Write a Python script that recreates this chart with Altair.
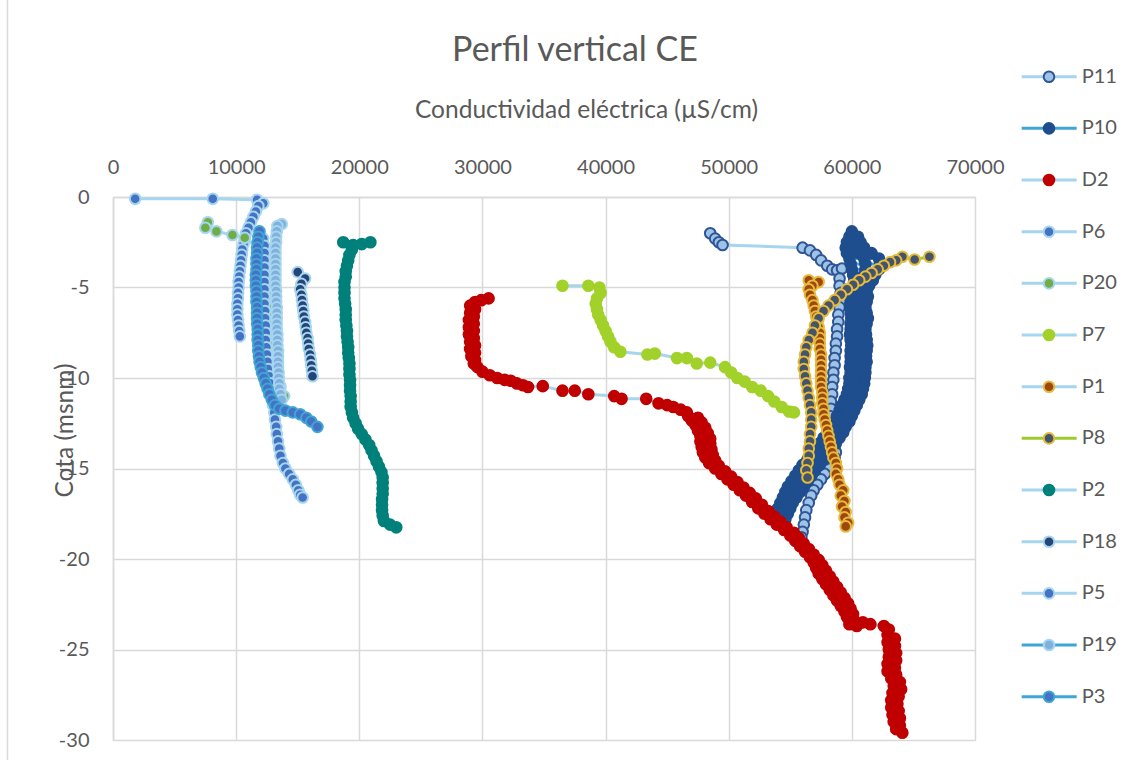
import altair as alt
import pandas as pd

# Series in legend / drawing order
SERIES = ["P11", "P10", "D2", "P6", "P20", "P7", "P1", "P8", "P2", "P18", "P5", "P19", "P3"]

LIGHT = "#A6D5EE"
MEDIUM = "#3FA5D5"
GOLD = "#E6BA3C"

LINE_COLORS = [LIGHT, MEDIUM, LIGHT, LIGHT, LIGHT, LIGHT, LIGHT, "#9DCB2E", LIGHT, LIGHT, LIGHT, MEDIUM, MEDIUM]
FILL_COLORS = ["#9DC3E6", "#1F4E8F", "#C00000", "#4472C4", "#70AD47", "#A2D12A", "#9E480E",
               "#44546A", "#00807A", "#264478", "#4472C4", "#7FB0DE", "#4472C4"]
STROKE_COLORS = ["#2F5597", "#1F4E8F", "#C00000", LIGHT, LIGHT, "#A2D12A", GOLD,
                 GOLD, "#00807A", LIGHT, LIGHT, LIGHT, MEDIUM]

# [conductividad (uS/cm), cota (msnm)]
P11 = [[48500, -2.0], [48900, -2.3], [49200, -2.5], [49500, -2.65],
       [56000, -2.8], [56600, -2.95], [57100, -3.2], [57500, -3.5], [58000, -3.8], [58400, -4.0],
       [58800, -4.05], [59200, -3.95], [59000, -4.5], [59000, -4.9], [59100, -5.3], [59100, -5.7],
       [59000, -6.1], [58900, -6.5], [58900, -6.9], [58800, -7.3], [58800, -7.7], [58700, -8.1],
       [58700, -8.5], [58600, -8.9], [58600, -9.3], [58500, -9.7], [58500, -10.1], [58400, -10.5],
       [58400, -10.9], [58300, -11.3], [58300, -11.7], [58200, -12.1], [58200, -12.5], [58300, -12.9],
       [58400, -13.3], [58500, -13.6], [58600, -13.9], [58700, -14.1], [58600, -14.4], [58400, -14.7],
       [58100, -15.0], [57800, -15.3], [57500, -15.6], [57200, -15.9], [56900, -16.2], [56700, -16.5],
       [56500, -16.9], [56300, -17.3], [56200, -17.7], [56100, -18.1], [56000, -18.5], [55900, -18.8]]

P10 = [[60000, -1.9],
       [59800, -2.2], [60150, -2.2], [60500, -2.2],
       [60700, -2.5], [60150, -2.5], [59600, -2.5],
       [59500, -2.8], [60250, -2.8], [61000, -2.8],
       [61600, -3.1], [60600, -3.1], [59600, -3.1],
       [59800, -3.4], [61000, -3.4], [62200, -3.4],
       [62300, -3.7], [61100, -3.7], [59900, -3.7],
       [60000, -4.0], [61100, -4.0], [62200, -4.0],
       [61900, -4.3], [61000, -4.3], [60100, -4.3],
       [60200, -4.6], [60950, -4.6], [61700, -4.6],
       [61400, -4.9], [60800, -4.9], [60200, -4.9],
       [59900, -5.2], [60550, -5.2], [61200, -5.2],
       [61300, -5.5], [60600, -5.5], [59900, -5.5],
       [59900, -5.8], [60500, -5.8], [61200, -5.8],
       [61100, -6.1], [60500, -6.1], [59850, -6.1],
       [59900, -6.4], [60550, -6.4], [61200, -6.4],
       [61300, -6.7], [60600, -6.7], [59950, -6.7],
       [59900, -7.0], [60500, -7.0], [61200, -7.0],
       [61100, -7.3], [60500, -7.3], [59900, -7.3],
       [59850, -7.6], [60500, -7.6], [61150, -7.6],
       [61200, -7.9], [60550, -7.9], [59900, -7.9],
       [59950, -8.2], [60600, -8.2], [61250, -8.2],
       [61200, -8.5], [60550, -8.5], [59900, -8.5],
       [59900, -8.8], [60500, -8.8], [61150, -8.8],
       [61200, -9.1], [60550, -9.1], [59900, -9.1],
       [59850, -9.4], [60500, -9.4], [61100, -9.4],
       [61100, -9.7], [60500, -9.7], [59900, -9.7],
       [59800, -10.0], [60450, -10.0], [61050, -10.0],
       [61000, -10.3], [60400, -10.3], [59800, -10.3],
       [59700, -10.6], [60300, -10.6], [60900, -10.6],
       [60800, -10.9], [60200, -10.9], [59600, -10.9],
       [59400, -11.2], [60000, -11.2], [60600, -11.2],
       [60400, -11.5], [59800, -11.5], [59200, -11.5],
       [59000, -11.8], [59600, -11.8], [60200, -11.8],
       [60000, -12.1], [59400, -12.1], [58800, -12.1],
       [58600, -12.4], [59200, -12.4], [59800, -12.4],
       [59500, -12.7], [58900, -12.7], [58300, -12.7],
       [58000, -13.0], [58650, -13.0], [59300, -13.0],
       [59000, -13.3], [58350, -13.3], [57700, -13.3],
       [57400, -13.6], [58050, -13.6], [58700, -13.6],
       [58400, -13.9], [57750, -13.9], [57100, -13.9],
       [56800, -14.2], [57450, -14.2], [58100, -14.2],
       [57800, -14.5], [57100, -14.5], [56400, -14.5],
       [56000, -14.8], [56700, -14.8], [57400, -14.8],
       [57000, -15.1], [56350, -15.1], [55700, -15.1],
       [55400, -15.4], [56050, -15.4], [56700, -15.4],
       [56400, -15.7], [55750, -15.7], [55100, -15.7],
       [54800, -16.0], [55450, -16.0], [56100, -16.0],
       [55800, -16.3], [55200, -16.3], [54600, -16.3],
       [54400, -16.6], [54950, -16.6], [55500, -16.6],
       [55200, -16.9], [54700, -16.9], [54200, -16.9],
       [54000, -17.2], [54500, -17.2], [55000, -17.2],
       [54800, -17.5], [54350, -17.5], [53900, -17.5],
       [53900, -17.8], [54250, -17.8], [54600, -17.8],
       [54500, -18.1], [54200, -18.1]]

D2 = [[30500, -5.6], [29900, -5.7], [29400, -5.8], [29000, -6.0], [29400, -6.2], [29000, -6.4],
      [29300, -6.6], [28900, -6.8], [29300, -7.0], [28900, -7.2], [29300, -7.4], [28900, -7.6],
      [29300, -7.8], [29000, -8.0], [29400, -8.2], [29000, -8.4], [29400, -8.6], [29100, -8.8],
      [29400, -9.0], [29300, -9.2], [29600, -9.4], [30000, -9.65], [30600, -9.85], [31200, -10.0],
      [31800, -10.1], [32300, -10.15], [32800, -10.3], [33300, -10.4], [33700, -10.5], [34900, -10.45],
      [36500, -10.7], [37500, -10.7], [38600, -10.9], [40700, -11.0], [41300, -11.15], [43300, -11.15],
      [44300, -11.4], [45000, -11.5], [45500, -11.6], [46100, -11.75], [46600, -11.9],
      [46700, -12.1], [47500, -12.2], [47000, -12.35], [47800, -12.45], [47300, -12.6], [48100, -12.75],
      [47500, -12.9], [48300, -13.05], [47700, -13.2], [48500, -13.35], [47700, -13.5], [48500, -13.65],
      [47800, -13.8], [48600, -13.95], [47900, -14.1], [48700, -14.25], [48100, -14.4], [48900, -14.55],
      [48400, -14.7], [49200, -14.85], [48900, -15.0], [49700, -15.15], [49400, -15.3], [50200, -15.45],
      [49900, -15.6], [50700, -15.75], [50400, -15.9], [51200, -16.05], [50900, -16.2], [51700, -16.35],
      [51400, -16.5], [52200, -16.65], [51900, -16.85], [52700, -17.0], [52400, -17.2], [53200, -17.35],
      [52900, -17.5], [53700, -17.65], [53400, -17.8], [54200, -17.95], [53900, -18.1], [54700, -18.25],
      [54500, -18.4], [55300, -18.55], [55000, -18.7], [55700, -18.85], [55400, -19.0], [56100, -19.15],
      [55800, -19.3], [56500, -19.45], [56200, -19.6], [56900, -19.75], [56600, -19.9], [57300, -20.05],
      [56900, -20.2], [57600, -20.35], [57100, -20.5], [57900, -20.65], [57300, -20.8], [58200, -20.95],
      [57600, -21.1], [58500, -21.25], [57900, -21.4], [58800, -21.55], [58200, -21.7], [59100, -21.85],
      [58500, -22.0], [59400, -22.15], [58800, -22.3], [59700, -22.45], [59100, -22.6], [59900, -22.75],
      [59400, -22.9], [60100, -23.05], [59600, -23.2], [60200, -23.4], [59800, -23.6], [60400, -23.7],
      [60900, -23.5], [61500, -23.6], [62600, -23.7], [63000, -23.9],
      [62900, -24.2], [63500, -24.4], [62900, -24.6], [63500, -24.8], [63000, -25.0], [63600, -25.2],
      [63000, -25.4], [63600, -25.6], [62900, -25.8], [63500, -26.0], [62900, -26.2], [63600, -26.4],
      [63200, -26.6], [63900, -26.8], [63400, -27.0], [64000, -27.2], [63300, -27.4], [63800, -27.6],
      [63200, -27.8], [63700, -28.0], [63200, -28.2], [63800, -28.4], [63300, -28.6], [63900, -28.8],
      [63400, -29.0], [63900, -29.2], [63600, -29.4], [64100, -29.6]]

P6 = [[1800, -0.1], [8100, -0.1], [11700, -0.15], [12200, -0.35], [11800, -0.5], [11600, -0.8],
      [11400, -1.1], [11200, -1.4], [11000, -1.7], [10800, -2.0], [10700, -2.3], [10600, -2.6],
      [10500, -2.9], [10450, -3.2], [10400, -3.5], [10350, -3.8], [10300, -4.1], [10250, -4.4],
      [10200, -4.7], [10200, -5.0], [10150, -5.3], [10150, -5.6], [10100, -5.9], [10100, -6.2],
      [10100, -6.5], [10150, -6.8], [10200, -7.1], [10250, -7.4], [10300, -7.7]]

P20 = [[7700, -1.4], [7500, -1.7], [8400, -1.9], [9700, -2.1], [10700, -2.25], [11900, -2.9],
       [12300, -3.5], [12500, -4.0], [12600, -4.5], [12700, -5.0], [12700, -5.5], [12800, -6.0],
       [12800, -6.5], [12900, -7.0], [12900, -7.5], [13000, -8.0], [13100, -8.5], [13200, -9.0],
       [13300, -9.5], [13400, -10.0], [13600, -10.5], [13900, -11.0]]

P7 = [[36500, -4.9], [38600, -4.9], [39500, -5.0], [39600, -5.3], [39300, -5.6], [39200, -5.9],
      [39300, -6.2], [39400, -6.5], [39600, -6.8], [39800, -7.1], [40000, -7.4], [40200, -7.7],
      [40400, -8.0], [40700, -8.3], [41200, -8.55], [43400, -8.7], [44000, -8.65], [45800, -8.9],
      [46600, -8.9], [47400, -9.2], [48500, -9.15], [49700, -9.4], [50200, -9.7], [50700, -10.0],
      [51300, -10.2], [51900, -10.5], [52600, -10.7], [53200, -11.0], [53700, -11.3], [54300, -11.6],
      [54900, -11.85], [55300, -11.9]]

P1 = [[56500, -4.6], [57300, -4.7], [56800, -4.9], [56500, -5.1], [56600, -5.4], [56800, -5.7],
      [56900, -6.0], [57000, -6.3], [57100, -6.6], [57200, -6.9], [57300, -7.2], [57400, -7.5],
      [57400, -7.8], [57400, -8.1], [57400, -8.4], [57500, -8.7], [57500, -9.0], [57500, -9.3],
      [57500, -9.6], [57500, -9.9], [57500, -10.2], [57500, -10.5], [57600, -10.8], [57600, -11.1],
      [57600, -11.4], [57700, -11.7], [57700, -12.0], [57800, -12.3], [57900, -12.6], [58000, -12.9],
      [58100, -13.2], [58200, -13.5], [58300, -13.8], [58400, -14.1], [58500, -14.4], [58700, -14.7],
      [58800, -15.0], [58700, -15.3], [58900, -15.6], [59000, -15.9], [59300, -16.2], [59100, -16.5],
      [59400, -16.8], [59200, -17.1], [59500, -17.4], [59400, -17.7], [59700, -18.0], [59500, -18.2]]

P8 = [[66300, -3.3], [65100, -3.45], [64100, -3.3], [63600, -3.5], [63100, -3.6], [62600, -3.8],
      [62100, -4.0], [61600, -4.2], [61100, -4.4], [60600, -4.6], [60100, -4.85], [59600, -5.1],
      [59100, -5.4], [58600, -5.7], [58100, -6.0], [57700, -6.3], [57300, -6.7], [57000, -7.1],
      [56800, -7.5], [56500, -7.9], [56300, -8.3], [56200, -8.7], [56100, -9.1], [56100, -9.5],
      [56200, -9.9], [56300, -10.3], [56400, -10.7], [56500, -11.1], [56600, -11.5], [56700, -11.9],
      [56700, -12.3], [56700, -12.7], [56600, -13.1], [56600, -13.5], [56500, -13.9], [56500, -14.3],
      [56400, -14.7], [56300, -15.1], [56400, -15.5]]

P2 = [[18700, -2.5], [19500, -2.65], [20200, -2.6], [20900, -2.5], [19400, -2.9], [19200, -3.2],
      [19100, -3.5], [19000, -3.8], [18900, -4.1], [18900, -4.4], [18800, -4.7], [18800, -5.0],
      [18800, -5.3], [18800, -5.6], [18850, -5.9], [18900, -6.2], [18900, -6.5], [18900, -6.8],
      [18950, -7.1], [19000, -7.4], [19000, -7.7], [19050, -8.0], [19100, -8.3], [19100, -8.6],
      [19150, -8.9], [19200, -9.2], [19200, -9.5], [19200, -9.8], [19250, -10.1], [19250, -10.4],
      [19250, -10.7], [19300, -11.0], [19300, -11.3], [19300, -11.6], [19400, -11.9], [19500, -12.2],
      [19700, -12.5], [19900, -12.8], [20200, -13.1], [20500, -13.4], [20800, -13.7], [21000, -14.0],
      [21200, -14.3], [21400, -14.6], [21600, -14.9], [21800, -15.2], [21900, -15.5], [21900, -15.8],
      [21900, -16.1], [21900, -16.4], [21850, -16.7], [21850, -17.0], [21850, -17.3], [21900, -17.6],
      [22000, -17.9], [22500, -18.1], [23000, -18.25]]

P18 = [[15000, -4.15], [15600, -4.5], [15300, -4.8], [15200, -5.1], [15300, -5.4], [15350, -5.7],
       [15400, -6.0], [15450, -6.3], [15500, -6.6], [15600, -6.9], [15650, -7.2], [15700, -7.5],
       [15800, -7.8], [15850, -8.1], [15900, -8.4], [16000, -8.7], [16050, -9.0], [16100, -9.3],
       [16150, -9.6], [16200, -9.9]]

P5 = [[12200, -2.3], [12300, -2.7], [12300, -3.1], [12300, -3.5], [12300, -3.9], [12300, -4.3],
      [12300, -4.7], [12300, -5.1], [12300, -5.5], [12300, -5.9], [12350, -6.3], [12350, -6.7],
      [12400, -7.1], [12400, -7.5], [12400, -7.9], [12450, -8.3], [12500, -8.7], [12550, -9.1],
      [12600, -9.5], [12700, -9.9], [12800, -10.3], [12850, -10.7], [12900, -11.1], [13000, -11.5],
      [13100, -11.9], [13150, -12.3], [13250, -12.7], [13300, -13.1], [13400, -13.5], [13500, -13.9],
      [13600, -14.3], [13800, -14.7], [14000, -15.0], [14300, -15.3], [14600, -15.6], [14850, -15.9],
      [15050, -16.2], [15200, -16.45], [15400, -16.6]]

P19 = [[13700, -1.5], [13350, -1.6], [13300, -1.9], [13250, -2.2], [13250, -2.5], [13200, -2.8],
       [13200, -3.1], [13200, -3.4], [13200, -3.7], [13200, -4.0], [13200, -4.3], [13200, -4.6],
       [13200, -4.9], [13250, -5.2], [13250, -5.5], [13250, -5.8], [13300, -6.1], [13300, -6.4],
       [13300, -6.7], [13300, -7.0], [13300, -7.3], [13350, -7.6], [13350, -7.9], [13350, -8.2],
       [13400, -8.5], [13400, -8.8], [13400, -9.1], [13400, -9.4], [13450, -9.7], [13450, -10.0],
       [13500, -10.3], [13500, -10.6], [13600, -10.9], [13700, -11.2]]

P3 = [[11900, -1.9], [11800, -2.2], [11750, -2.5], [11700, -2.8], [11700, -3.1], [11650, -3.4],
      [11650, -3.7], [11650, -4.0], [11600, -4.3], [11600, -4.6], [11600, -4.9], [11650, -5.2],
      [11650, -5.5], [11650, -5.8], [11700, -6.1], [11700, -6.4], [11700, -6.7], [11700, -7.0],
      [11750, -7.3], [11750, -7.6], [11750, -7.9], [11800, -8.2], [11800, -8.5], [11850, -8.8],
      [11900, -9.1], [12000, -9.4], [12100, -9.7], [12250, -10.0], [12400, -10.3], [12550, -10.6],
      [12700, -10.9], [12900, -11.2], [13150, -11.5], [13500, -11.7], [14000, -11.8], [14600, -11.9],
      [15200, -12.0], [15700, -12.2], [16100, -12.4], [16600, -12.7]]

PROFILES = {"P11": P11, "P10": P10, "D2": D2, "P6": P6, "P20": P20, "P7": P7, "P1": P1,
            "P8": P8, "P2": P2, "P18": P18, "P5": P5, "P19": P19, "P3": P3}

rows = []
for name in SERIES:
    for i, (ce, cota) in enumerate(PROFILES[name]):
        rows.append({"serie": name, "idx": i, "ce": ce, "cota": cota})
df = pd.DataFrame(rows)

FONT = "Lato"
TXT = "#595959"
GRID = "#D9D9D9"

line_scale = alt.Scale(domain=SERIES, range=LINE_COLORS)
fill_scale = alt.Scale(domain=SERIES, range=FILL_COLORS)
stroke_scale = alt.Scale(domain=SERIES, range=STROKE_COLORS)

x_enc = alt.X(
    "ce:Q",
    scale=alt.Scale(domain=[0, 70000], nice=False, zero=False),
    axis=alt.Axis(
        orient="top", values=list(range(0, 70001, 10000)), labelExpr="'' + datum.value",
        title="Conductividad eléctrica (µS/cm)", titleFont=FONT, titleFontSize=24.5,
        titleFontWeight="normal", titleColor=TXT, titleX=473, titleY=-87,
        titleAlign="center", titleBaseline="middle",
        labelFont=FONT, labelFontSize=20, labelColor=TXT, labelBaseline="middle",
        labelPadding=30, labelFlush=False, ticks=False, tickSize=0,
        grid=True, gridColor=GRID, gridWidth=1.5, domainColor=GRID, domainWidth=1.5,
    ),
)
y_enc = alt.Y(
    "cota:Q",
    scale=alt.Scale(domain=[-30, 0], nice=False, zero=False),
    axis=alt.Axis(
        values=[0, -5, -10, -15, -20, -25, -30], labelExpr="'' + datum.value",
        title="Cota (msnm)", titleFont=FONT, titleFontSize=24.5, titleFontWeight="normal",
        titleColor=TXT, titleAngle=270, titleX=-48, titleY=233,
        titleAlign="center", titleBaseline="middle",
        labelFont=FONT, labelFontSize=20, labelColor=TXT, labelPadding=24, labelFlush=False,
        ticks=False, tickSize=0,
        grid=True, gridColor=GRID, gridWidth=1.5, domainColor=GRID, domainWidth=1.5,
    ),
)

lines = alt.Chart(df).mark_line(strokeWidth=3).encode(
    x=x_enc, y=y_enc,
    color=alt.Color("serie:N", scale=line_scale, legend=None),
    order=alt.Order("idx:Q"),
)
points = alt.Chart(df).mark_point(filled=True, shape="circle", size=113, strokeWidth=2, opacity=1).encode(
    x=x_enc, y=y_enc,
    fill=alt.Fill("serie:N", scale=fill_scale, legend=None),
    stroke=alt.Stroke("serie:N", scale=stroke_scale, legend=None),
)
profiles_layer = alt.layer(lines, points)

# Legend drawn as its own layer: one row per series
leg_df = pd.DataFrame({"serie": SERIES})
leg_y = alt.Y("serie:N", scale=alt.Scale(type="point", domain=SERIES, range=[-120.3, 499.7], padding=0),
              axis=None)
leg_line = alt.Chart(leg_df).mark_rule(strokeWidth=3).encode(
    x=alt.value(908.7), x2=alt.value(963.7), y=leg_y,
    color=alt.Color("serie:N", scale=line_scale, legend=None),
)
leg_dot = alt.Chart(leg_df).mark_point(filled=True, shape="circle", size=113, strokeWidth=2, opacity=1).encode(
    x=alt.value(936), y=leg_y,
    fill=alt.Fill("serie:N", scale=fill_scale, legend=None),
    stroke=alt.Stroke("serie:N", scale=stroke_scale, legend=None),
)
leg_text = alt.Chart(leg_df).mark_text(align="left", baseline="middle", font=FONT, fontSize=20, color=TXT).encode(
    x=alt.value(968.7), y=leg_y, text="serie:N",
)
frame = alt.Chart(pd.DataFrame({"k": [0]})).mark_rule(color=GRID, strokeWidth=1.5).encode(
    x=alt.value(-105.5), y=alt.value(-197), y2=alt.value(563),
)
heading = alt.Chart(pd.DataFrame({"t": ["Perfil vertical CE"]})).mark_text(
    align="center", baseline="middle", font=FONT, fontSize=34, color=TXT,
).encode(x=alt.value(462), y=alt.value(-146), text="t:N")
legend_layer = alt.layer(frame, heading, leg_line, leg_dot, leg_text)

chart = (
    alt.layer(profiles_layer, legend_layer)
    .resolve_scale(y="independent")
    .properties(
        width=862, height=543,
        autosize=alt.AutoSizeParams(type="none"),
        padding={"left": 113, "top": 197, "right": 159, "bottom": 20},
    )
    .configure_view(stroke=None)
    .configure(background="white")
)

chart.save("out.html", embed_options={"renderer": "svg", "actions": False})
